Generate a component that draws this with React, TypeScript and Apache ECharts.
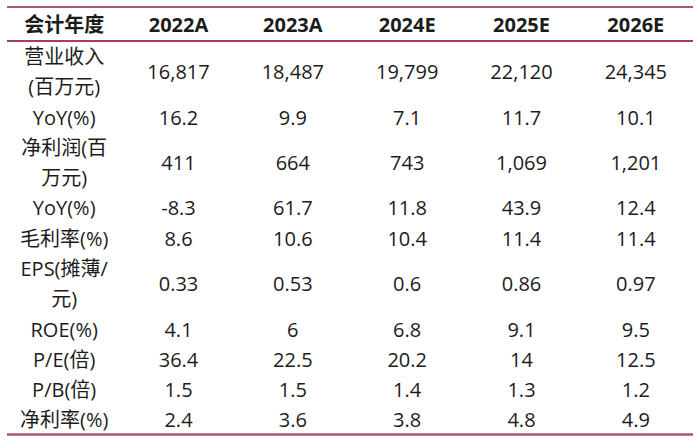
import React, { useEffect, useRef } from "react";
import * as echarts from "echarts";

// ---- data ----
const headerLabel = "会计年度";
const years = ["2022A", "2023A", "2024E", "2025E", "2026E"];
const rowLabels = [
  "营业收入\n(百万元)",
  "YoY(%)",
  "净利润(百\n万元)",
  "YoY(%)",
  "毛利率(%)",
  "EPS(摊薄/\n元)",
  "ROE(%)",
  "P/E(倍)",
  "P/B(倍)",
  "净利率(%)",
];
const revenue = [16817, 18487, 19799, 22120, 24345];
const revenueYoY = [16.2, 9.9, 7.1, 11.7, 10.1];
const netProfit = [411, 664, 743, 1069, 1201];
const netProfitYoY = [-8.3, 61.7, 11.8, 43.9, 12.4];
const grossMargin = [8.6, 10.6, 10.4, 11.4, 11.4];
const eps = [0.33, 0.53, 0.6, 0.86, 0.97];
const roe = [4.1, 6, 6.8, 9.1, 9.5];
const pe = [36.4, 22.5, 20.2, 14, 12.5];
const pb = [1.5, 1.5, 1.4, 1.3, 1.2];
const netMargin = [2.4, 3.6, 3.8, 4.8, 4.9];

const rows = [revenue, revenueYoY, netProfit, netProfitYoY, grossMargin, eps, roe, pe, pb, netMargin];

// ---- layout (not data) ----
const rowSpans = [2, 1, 2, 1, 1, 2, 1, 1, 1, 1];
const HEADER_UNITS = 1.1;
const LINE_H = 30;
const FONT = "'Open Sans', 'Noto Sans CJK SC', sans-serif";

const fmt = (v: number) => v.toLocaleString("en-US", { maximumFractionDigits: 2 });

type Cell = { col: number; y: number; text: string; bold: boolean };

function buildCells(): Cell[] {
  const cells: Cell[] = [];
  const hy = -HEADER_UNITS / 2;
  cells.push({ col: 0, y: hy, text: headerLabel, bold: true });
  years.forEach((yr, i) => cells.push({ col: i + 1, y: hy, text: yr, bold: true }));
  let acc = 0;
  rows.forEach((vals, r) => {
    const cy = acc + rowSpans[r] / 2;
    acc += rowSpans[r];
    cells.push({ col: 0, y: cy, text: rowLabels[r], bold: false });
    vals.forEach((v, i) => cells.push({ col: i + 1, y: cy, text: fmt(v), bold: false }));
  });
  return cells;
}

export default function App() {
  const ref = useRef<HTMLDivElement>(null);
  useEffect(() => {
    if (!ref.current) return;
    const chart = echarts.init(ref.current, null, { renderer: "svg" });
    const cells = buildCells();
    const total = rowSpans.reduce((a, b) => a + b, 0);
    chart.setOption({
      animation: false,
      backgroundColor: "#ffffff",
      grid: { left: 7, right: 7, top: 7, bottom: 8 },
      xAxis: {
        type: "category",
        data: ["", ...years],
        boundaryGap: true,
        show: false,
      },
      yAxis: {
        type: "value",
        min: -HEADER_UNITS,
        max: total,
        inverse: true,
        show: false,
        splitLine: { show: false },
      },
      series: [
        {
          type: "custom",
          silent: true,
          data: cells.map((c) => [c.col, c.y]),
          renderItem: (params: any, api: any) => {
            const c = cells[params.dataIndex];
            const pt = api.coord([api.value(0), api.value(1)]);
            return {
              type: "text",
              x: pt[0],
              y: pt[1] + 1,
              style: {
                text: c.text,
                fill: "#1c1c1c",
                fontFamily: FONT,
                fontSize: 20,
                fontWeight: c.bold ? "bold" : "normal",
                align: "center",
                verticalAlign: "middle",
                lineHeight: LINE_H,
              },
            };
          },
          markLine: {
            silent: true,
            symbol: ["none", "none"],
            label: { show: false },
            data: [
              { yAxis: -HEADER_UNITS, lineStyle: { color: "#8e2444", width: 1.5, type: "solid" } },
              { yAxis: 0, lineStyle: { color: "#a63d5b", width: 2, type: "solid" } },
              { yAxis: total, lineStyle: { color: "#a9566f", width: 2.5, type: "solid" } },
            ],
          },
        },
      ],
    });
    return () => chart.dispose();
  }, []);
  return (
    <div
      ref={ref}
      style={{ position: "fixed", left: 0, top: 0, width: 700, height: 442, background: "#fff" }}
    />
  );
}
